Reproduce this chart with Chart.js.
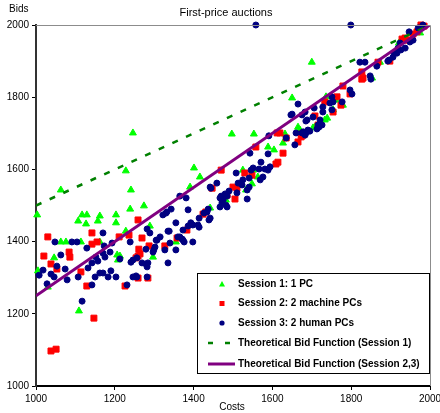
<!DOCTYPE html>
<html>
<head>
<meta charset="utf-8">
<script src="https://cdn.jsdelivr.net/npm/chart.js@4.4.1/dist/chart.umd.min.js"></script>
<style>
  html, body { margin: 0; padding: 0; background: #fff; }
</style>
</head>
<body>
<canvas id="myChart" width="440" height="413"></canvas>
<script>
// [cost, bid] pairs
const session1 = [
  [1003,1474],[1063,1543],[1246,1701],[1228,1596],[1241,1543],[1239,1490],[1274,1499],
  [1203,1474],[1203,1452],[1162,1471],[1157,1457],[1129,1474],[1117,1474],[1107,1457],
  [1127,1449],[1063,1399],[1076,1399],[1114,1399],[1162,1399],[1228,1429],[1289,1443],
  [1355,1399],[1046,1355],[1206,1363],[1208,1349],[1297,1357],[1005,1319],[1030,1274],
  [1109,1208],[1391,1551],[1416,1579],[1401,1604],[1497,1698],[1553,1698],[1589,1662],
  [1604,1654],[1632,1698],[1627,1673],[1665,1717],[1670,1709],[1708,1717],[1733,1737],
  [1525,1598],[1551,1598],[1563,1579],[1548,1560],[1533,1543],[1482,1515],[1442,1493],
  [1700,1897],[1921,1950],[1736,1801],[1761,1792],[1779,1778],[1754,1765],[1739,1742],
  [1703,1715],[1853,1853],[1975,1978],[1650,1798],[1213,1360],[1873,1897]
];
const session2 = [
  [1030,1413],[1142,1424],[1142,1393],[1155,1399],[1211,1413],[1236,1418],[1259,1460],
  [1269,1410],[1327,1388],[1287,1388],[1358,1410],[1383,1432],[1020,1360],[1038,1338],
  [1084,1371],[1086,1357],[1053,1324],[1114,1316],[1129,1277],[1226,1277],[1259,1299],
  [1259,1360],[1264,1366],[1254,1355],[1284,1299],[1147,1188],[1038,1097],[1051,1102],
  [1261,1379],[1424,1476],[1447,1548],[1485,1529],[1470,1598],[1505,1518],[1500,1551],
  [1510,1548],[1530,1590],[1548,1584],[1558,1662],[1612,1701],[1619,1701],[1627,1645],
  [1614,1620],[1609,1615],[1665,1676],[1673,1690],[1675,1698],[1827,1870],[1827,1850],
  [1779,1831],[1733,1787],[1764,1801],[1774,1778],[1754,1759],[1797,1809],[1708,1748],
  [1716,1723],[1678,1695],[1868,1897],[1898,1900],[1929,1961],[1942,1958],[1957,1975],
  [1967,1981],[1977,2000],[1985,1997],[1937,1964],[1830,1853],[1431,1482],[1635,1687]
];
const session3 = [
  [1048,1399],[1091,1399],[1104,1399],[1063,1363],[1053,1332],[1018,1321],[1008,1307],
  [1028,1283],[1038,1310],[1046,1302],[1074,1324],[1079,1294],[1107,1302],[1129,1382],
  [1142,1341],[1157,1346],[1170,1424],[1173,1388],[1170,1368],[1132,1327],[1150,1302],
  [1162,1313],[1170,1313],[1183,1302],[1190,1319],[1203,1302],[1193,1396],[1142,1280],
  [1213,1352],[1239,1399],[1241,1343],[1246,1349],[1256,1355],[1246,1302],[1254,1305],
  [1231,1280],[1269,1341],[1279,1338],[1284,1341],[1279,1379],[1297,1371],[1302,1385],
  [1307,1404],[1315,1413],[1327,1377],[1335,1341],[1340,1396],[1355,1377],[1365,1413],
  [1373,1404],[1376,1399],[1398,1399],[1117,1235],[1282,1435],[1289,1424],[1322,1474],
  [1332,1482],[1343,1490],[1355,1452],[1335,1429],[1365,1526],[1360,1413],[1188,1371],
  [1175,1357],[1152,1357],[1282,1330],[1299,1377],[1305,1404],[1338,1429],[1373,1432],
  [1386,1443],[1393,1452],[1398,1446],[1411,1446],[1414,1465],[1434,1482],[1437,1490],
  [1386,1488],[1330,1479],[1381,1521],[1442,1551],[1459,1562],[1467,1521],[1472,1507],
  [1482,1501],[1475,1515],[1256,1302],[1282,1302],[1414,1440],[1371,1407],[1426,1479],
  [1439,1460],[1444,1548],[1480,1532],[1508,1590],[1513,1562],[1525,1571],[1523,1557],
  [1541,1576],[1546,1598],[1551,1604],[1566,1601],[1571,1620],[1581,1601],[1589,1598],
  [1594,1607],[1569,1571],[1576,1579],[1543,1645],[1589,1643],[1591,1693],[1635,1687],
  [1657,1668],[1660,1701],[1675,1701],[1685,1701],[1695,1706],[1713,1712],[1718,1717],
  [1726,1723],[1688,1737],[1541,1551],[1536,1543],[1647,1751],[1675,1751],[1510,1535],
  [1490,1540],[1485,1526],[1536,1518],[1470,1526],[1477,1526],[1470,1518],[1485,1496],
  [1467,1496],[1442,1465],[1822,1897],[1835,1897],[1865,1886],[1893,1900],[1848,1859],
  [1850,1850],[1797,1820],[1802,1809],[1751,1801],[1754,1787],[1777,1787],[1665,1781],
  [1650,1753],[1683,1759],[1706,1770],[1728,1773],[1728,1759],[1703,1745],[1685,1734],
  [1721,1737],[1690,1709],[1678,1704],[1799,2000],[1558,2000],[1982,2000],[1906,1911],
  [1916,1922],[1926,1931],[1937,1936],[1949,1953],[1957,1958],[1970,1992],[1947,1981],
  [1924,1950],[1919,1936],[1909,1922],[1896,1903],[1746,1784],[1751,1765],[1716,1723],
  [1683,1695]
];
// theoretical bid functions, end points
const theory1 = [[1000,1500],[2000,2000]];
const theory23 = [[1000,1250],[2000,2000]];

const costTicks = [1000,1200,1400,1600,1800,2000];
const bidTicks = [1000,1200,1400,1600,1800,2000];

const toXY = arr => arr.map(p => ({ x: p[0], y: p[1] }));

const FONT = 'Arial, "Liberation Sans", sans-serif';

// title, axis names, frame and legend drawn on the canvas
const extras = {
  id: 'extras',
  afterDraw(chart) {
    const ctx = chart.ctx;
    const a = chart.chartArea;
    ctx.save();

    // grey frame on top and right
    ctx.strokeStyle = '#8c8c8c';
    ctx.lineWidth = 1;
    ctx.beginPath();
    ctx.moveTo(a.left, a.top + 0.5);
    ctx.lineTo(a.right + 0.5, a.top + 0.5);
    ctx.lineTo(a.right + 0.5, a.bottom);
    ctx.stroke();

    ctx.fillStyle = '#000';
    ctx.textBaseline = 'middle';
    ctx.font = '11px ' + FONT;
    ctx.textAlign = 'center';
    ctx.fillText('First-price auctions', 226, 13);
    ctx.font = '10px ' + FONT;
    ctx.textAlign = 'left';
    ctx.fillText('Bids', 9, 9);
    ctx.textAlign = 'center';
    ctx.fillText('Costs', 232, 407);

    // legend box
    const bx = a.right - 233, by = a.bottom - 113, bw = 232, bh = 100;
    ctx.fillStyle = '#fff';
    ctx.fillRect(bx, by, bw, bh);
    ctx.strokeStyle = '#000';
    ctx.lineWidth = 1;
    ctx.strokeRect(bx + 0.5, by + 0.5, bw, bh);

    const sx = bx + 25, tx = bx + 41;
    const rows = [by + 11, by + 30.5, by + 50, by + 70, by + 91];
    const ds = chart.data.datasets;

    // triangle
    ctx.fillStyle = ds[0].backgroundColor;
    ctx.beginPath();
    ctx.moveTo(sx, rows[0] - 3);
    ctx.lineTo(sx + 3, rows[0] + 2.5);
    ctx.lineTo(sx - 3, rows[0] + 2.5);
    ctx.closePath();
    ctx.fill();
    // square
    ctx.fillStyle = ds[1].backgroundColor;
    ctx.fillRect(sx - 2.5, rows[1] - 2.5, 5, 5);
    // circle
    ctx.fillStyle = ds[2].backgroundColor;
    ctx.beginPath();
    ctx.arc(sx, rows[2], 2.6, 0, Math.PI * 2);
    ctx.fill();
    // dashed line
    ctx.strokeStyle = ds[3].borderColor;
    ctx.lineWidth = 2.5;
    ctx.setLineDash([5, 12]);
    ctx.beginPath();
    ctx.moveTo(bx + 11, rows[3]);
    ctx.lineTo(bx + 38, rows[3]);
    ctx.stroke();
    ctx.setLineDash([]);
    // solid line
    ctx.strokeStyle = ds[4].borderColor;
    ctx.lineWidth = 3;
    ctx.beginPath();
    ctx.moveTo(bx + 11, rows[4]);
    ctx.lineTo(bx + 38, rows[4]);
    ctx.stroke();

    ctx.fillStyle = '#000';
    ctx.font = 'bold 10px ' + FONT;
    ctx.textAlign = 'left';
    ds.forEach((d, i) => ctx.fillText(d.label, tx, rows[i]));
    ctx.restore();
  }
};

const config = {
  type: 'scatter',
  data: {
    datasets: [
      {
        label: 'Session 1: 1 PC',
        data: toXY(session1),
        pointStyle: 'triangle',
        pointRadius: 4,
        backgroundColor: '#00ff00',
        borderColor: '#00ff00',
        borderWidth: 1,
        order: 5,
        clip: false
      },
      {
        label: 'Session 2: 2 machine PCs',
        data: toXY(session2),
        pointStyle: 'rect',
        pointRadius: 4.2,
        backgroundColor: '#ff0000',
        borderColor: '#ff0000',
        borderWidth: 1,
        order: 4,
        clip: false
      },
      {
        label: 'Session 3: 2 human PCs',
        data: toXY(session3),
        pointStyle: 'circle',
        pointRadius: 3,
        backgroundColor: '#000080',
        borderColor: '#000080',
        borderWidth: 1,
        order: 3,
        clip: false
      },
      {
        label: 'Theoretical Bid Function (Session 1)',
        type: 'line',
        data: toXY(theory1),
        borderColor: '#008000',
        borderWidth: 2.5,
        borderDash: [6, 9],
        pointRadius: 0,
        fill: false,
        order: 2
      },
      {
        label: 'Theoretical Bid Function (Session 2,3)',
        type: 'line',
        data: toXY(theory23),
        borderColor: '#800080',
        borderWidth: 3,
        pointRadius: 0,
        fill: false,
        order: 1
      }
    ]
  },
  options: {
    responsive: false,
    animation: false,
    layout: { padding: { left: 0, right: 10, top: 25, bottom: 0 } },
    plugins: {
      legend: { display: false },
      title: { display: false },
      tooltip: { enabled: false }
    },
    scales: {
      x: {
        type: 'linear',
        min: 1000,
        max: 2000,
        afterBuildTicks: s => { s.ticks = costTicks.map(v => ({ value: v })); },
        afterFit: s => { s.height = 27; s.paddingLeft = 0; s.paddingRight = 0; },
        ticks: {
          callback: v => String(v),
          color: '#000',
          font: { size: 10, family: FONT },
          padding: 3,
          maxRotation: 0
        },
        grid: { drawOnChartArea: false, drawTicks: true, tickLength: 4, color: '#000' },
        border: { display: true, color: '#000', width: 2 }
      },
      y: {
        type: 'linear',
        min: 1000,
        max: 2000,
        afterBuildTicks: s => { s.ticks = bidTicks.map(v => ({ value: v })); },
        afterFit: s => { s.width = 36; s.paddingTop = 0; s.paddingBottom = 0; },
        ticks: {
          callback: v => String(v),
          color: '#000',
          font: { size: 10, family: FONT },
          padding: 3
        },
        grid: { drawOnChartArea: false, drawTicks: true, tickLength: 4, color: '#000' },
        border: { display: true, color: '#333', width: 2 }
      }
    }
  },
  plugins: [extras]
};

new Chart(document.getElementById('myChart'), config);
</script>
</body>
</html>
